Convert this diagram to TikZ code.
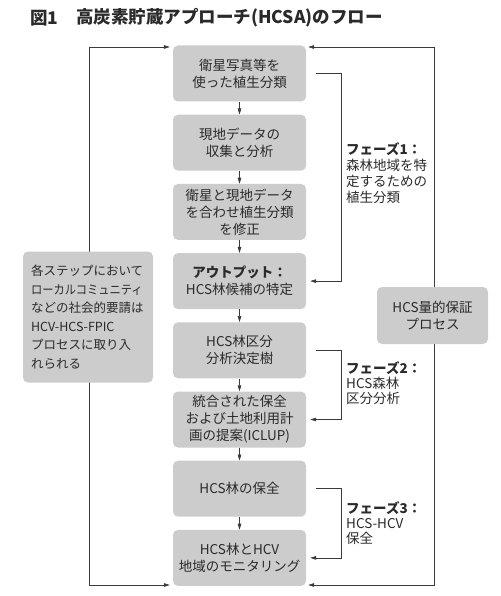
\documentclass[tikz,border=0pt]{standalone}
\usepackage{fontspec}
\setmainfont{Noto Sans CJK JP}
\usetikzlibrary{arrows.meta,backgrounds}
\definecolor{boxgray}{HTML}{CCCCCC}
\definecolor{ln}{HTML}{3A3A3A}
\definecolor{txt}{HTML}{2A2A2A}
\tikzset{
  flowbox/.style={fill=boxgray, rounded corners=5pt, minimum width=133pt, minimum height=56pt,
    align=center, inner sep=0pt, text=txt, font=\fontsize{13.5}{17}\selectfont},
  sidebox/.style={fill=boxgray, rounded corners=5pt, inner sep=0pt, text=txt},
  phase/.style={anchor=north west, inner sep=0pt, align=left, text=txt},
  arr/.style={draw=ln, line width=0.6pt, -{Triangle[length=6pt,width=3.6pt]}},
  dblarr/.style={draw=ln, line width=0.6pt, {Triangle[length=6pt,width=3.6pt]}-{Triangle[length=6pt,width=3.6pt]}},
}
\begin{document}
\begin{tikzpicture}[x=1pt,y=-1pt]
\useasboundingbox (0,0) rectangle (500,596);
% title
\node[anchor=west, inner sep=0pt, text=txt, font=\fontsize{17.5}{20}\selectfont\bfseries] (t1) at (30,18) {図1};
\node[anchor=west, inner sep=0pt, text=txt, font=\fontsize{17.5}{20}\selectfont\bfseries] (t2) at (76,18) {高炭素貯蔵アプローチ(HCSA)のフロー};
% main flow
\node[flowbox] (b1) at (239.5,73.5) {衛星写真等を\\使った植生分類};
\node[flowbox] (b2) at (239.5,142.7) {現地データの\\収集と分析};
\node[flowbox] (b3) at (239.5,211.9) {衛星と現地データ\\を合わせ植生分類\\を修正};
\node[flowbox] (b4) at (239.5,281.1) {{\bfseries アウトプット：}\\HCS林候補の特定};
\node[flowbox] (b5) at (239.5,350.3) {HCS林区分\\分析決定樹};
\node[flowbox] (b6) at (239.5,419.5) {統合された保全\\および土地利用計\\画の提案(ICLUP)};
\node[flowbox] (b7) at (239.5,488.7) {HCS林の保全};
\node[flowbox] (b8) at (239.5,557.9) {HCS林とHCV\\地域のモニタリング};
% side boxes
\node[sidebox, minimum width=130pt, minimum height=131pt, align=left, text width=114pt,
      font=\fontsize{12.5}{18.5}\selectfont] (lb) at (88,317)
  {各ステップにおいて\\\scalebox{0.9}[1]{ローカルコミュニティ}\\などの社会的要請は\\HCV-HCS-FPIC\\プロセスに取り入\\れられる};
\node[sidebox, minimum width=111pt, minimum height=57pt, align=center,
      font=\fontsize{13.5}{17}\selectfont] (rb) at (432.5,315.5) {HCS量的保証\\プロセス};
% loop coordinates
\coordinate (LT) at (89,47);
\coordinate (LB) at (89,585);
\coordinate (RT) at (434,47);
\coordinate (RB) at (434,585);
\begin{scope}[on background layer]
\draw[dblarr] ([xshift=-3pt]b1.west |- LT) -- (LT) -- (LB) -- ([xshift=-3pt]b8.west |- LB);
\draw[dblarr] ([xshift=2pt]b1.east |- RT) -- (RT) -- (RB) -- ([xshift=2pt]b8.east |- RB);
\end{scope}
% main arrows
\draw[arr] (b1) -- (b2);
\draw[arr] (b2) -- (b3);
\draw[arr] (b3) -- (b4);
\draw[arr] (b4) -- (b5);
\draw[arr] (b5) -- (b6);
\draw[arr] (b6) -- (b7);
\draw[arr] (b7) -- (b8);
% phase brackets
\draw[arr] ([xshift=10pt]b1.east) -- ++(25,0) |- ([xshift=4pt]b4.east);
\draw[arr] ([xshift=10pt]b5.east) -- ++(25,0) |- ([xshift=4pt]b6.east);
\draw[arr] ([xshift=10pt]b7.east) -- ++(25,0) |- ([xshift=4pt]b8.east);
% phase labels
\node[phase, font=\fontsize{13.5}{16.3}\selectfont] (ph1) at (346,142)
  {{\bfseries フェーズ1：}\\森林地域を特\\定するための\\植生分類};
\node[phase, font=\fontsize{13.5}{15}\selectfont] (ph2) at (346,361)
  {{\bfseries フェーズ2：}\\HCS森林\\区分分析};
\node[phase, font=\fontsize{13.5}{15}\selectfont] (ph3) at (346,501)
  {{\bfseries フェーズ3：}\\HCS-HCV\\保全};
\end{tikzpicture}
\end{document}
